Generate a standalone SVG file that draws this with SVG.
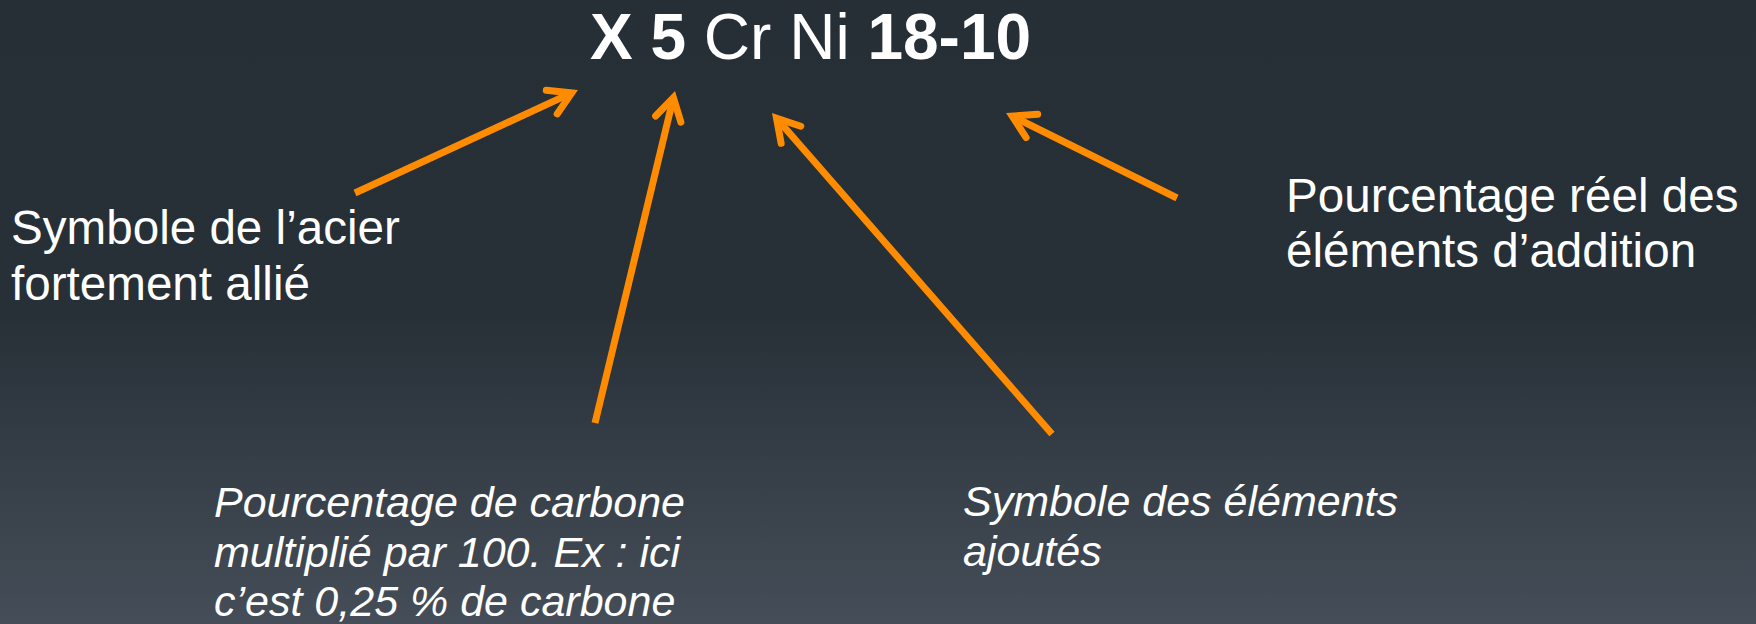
<svg xmlns="http://www.w3.org/2000/svg" width="1756" height="624" viewBox="0 0 1756 624">
<defs>
<linearGradient id="bg" x1="0" y1="0" x2="0" y2="1">
<stop offset="0" stop-color="#262e36"/>
<stop offset="0.5" stop-color="#272f37"/>
<stop offset="1" stop-color="#454e58"/>
</linearGradient>
<marker id="head" markerUnits="userSpaceOnUse" orient="auto" refX="0" refY="0" markerWidth="60" markerHeight="60" viewBox="-40 -30 60 60" overflow="visible">
<path d="M -22 -13 L 0 0 L -22 13" fill="none" stroke="#ff8c00" stroke-width="7" stroke-linejoin="miter" stroke-miterlimit="10" stroke-linecap="round"/>
</marker>
</defs>
<style>
.lbl{font-family:"Liberation Sans",Arial,sans-serif;fill:#ffffff;}
.up{font-size:47.6px;}
.it{font-size:43px;font-style:italic;}
.title{font-size:64px;}
.b{font-weight:bold;}
.arr{stroke:#ff8c00;stroke-width:7;fill:none;stroke-linecap:butt;marker-end:url(#head);}
</style>
<rect x="0" y="0" width="1756" height="624" fill="url(#bg)"/>
<g id="title">
<text class="lbl title" x="590" y="59"><tspan class="b">X 5</tspan> Cr Ni <tspan class="b">18-10</tspan></text>
</g>
<g id="node-symbole-acier">
<text class="lbl up" x="11" y="244"><tspan x="11">Symbole de l’acier</tspan><tspan x="11" dy="56">fortement allié</tspan></text>
</g>
<g id="node-pourcentage-reel">
<text class="lbl up" x="1286" y="212"><tspan x="1286">Pourcentage réel des</tspan><tspan x="1286" dy="55">éléments d’addition</tspan></text>
</g>
<g id="node-carbone">
<text class="lbl it" x="214" y="517"><tspan x="214">Pourcentage de carbone</tspan><tspan x="214" dy="49.5">multiplié par 100. Ex : ici</tspan><tspan x="214" dy="49.5">c’est 0,25 % de carbone</tspan></text>
</g>
<g id="node-elements">
<text class="lbl it" x="963" y="516"><tspan x="963">Symbole des éléments</tspan><tspan x="963" dy="49.5">ajoutés</tspan></text>
</g>
<g id="connectors">
<line class="arr" x1="355" y1="193" x2="571.7" y2="92.9"/>
<line class="arr" x1="595" y1="423" x2="673.4" y2="97.7"/>
<line class="arr" x1="1052" y1="434" x2="776.5" y2="118.2"/>
<line class="arr" x1="1177" y1="198" x2="1012.2" y2="116.1"/>
</g>
</svg>
